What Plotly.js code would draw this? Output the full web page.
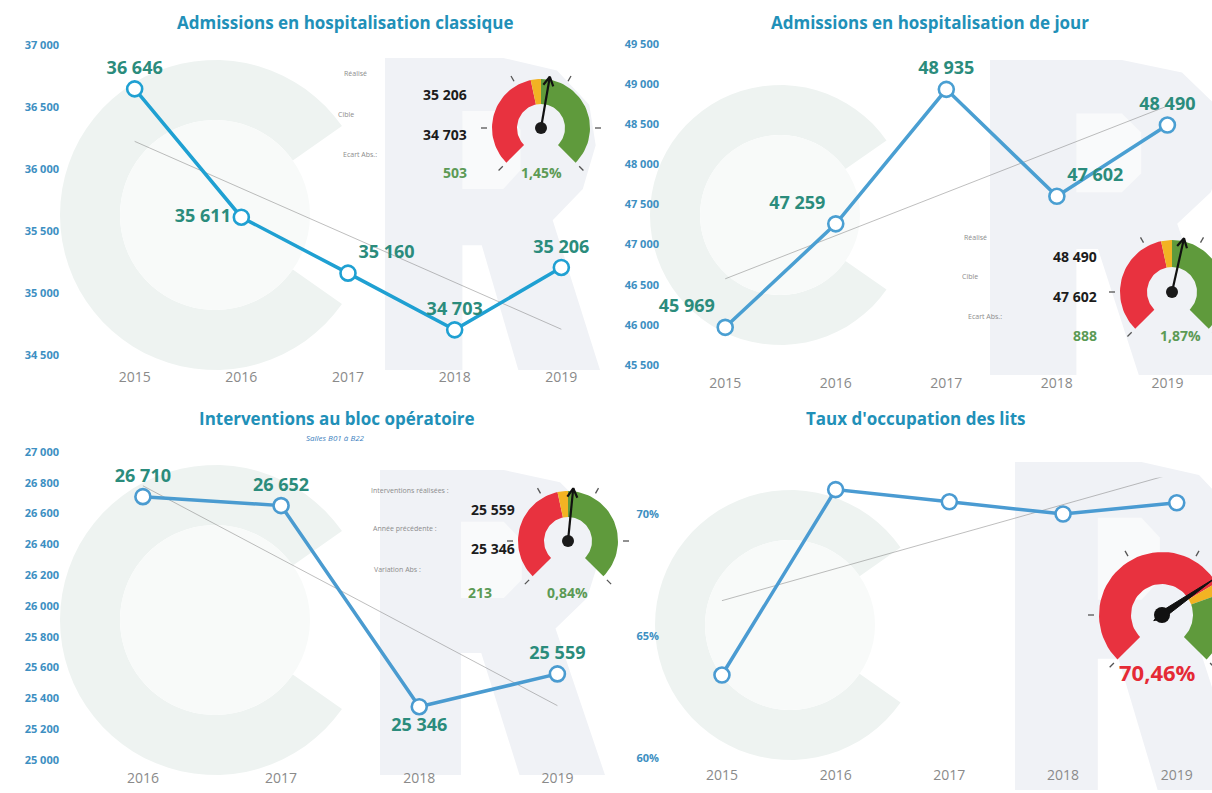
<!DOCTYPE html>
<html><head><meta charset="utf-8">
<script src="https://cdn.plot.ly/plotly-3.0.1.min.js"></script>
<style>html,body{margin:0;padding:0;background:#fff;}#c{width:1212px;height:793px;}</style>
</head><body><div id="c"></div>
<script>
// ---------- DATA ----------
const yearsA = [2015, 2016, 2017, 2018, 2019];
const hospClassique = [36646, 35611, 35160, 34703, 35206];
const hospJour = [45969, 47259, 48935, 47602, 48490];
const yearsBloc = [2016, 2017, 2018, 2019];
const blocInterventions = [26710, 26652, 25346, 25559];
const tauxOccupation = [63.4, 71.0, 70.5, 70.0, 70.46];
const tauxTicks = [60, 65, 70];

const titles = ['Admissions en hospitalisation classique', 'Admissions en hospitalisation de jour',
  'Interventions au bloc opératoire', "Taux d'occupation des lits"];
const subtitleBloc = 'Salles B01 à B22';

// gauge figures
const g1Labels = ['Réalisé', 'Cible', 'Ecart Abs.:'];
const g1Values = ['35 206', '34 703', '503', '1,45%'];
const g2Labels = ['Réalisé', 'Cible', 'Ecart Abs.:'];
const g2Values = ['48 490', '47 602', '888', '1,87%'];
const g3Labels = ['Interventions réalisées :', 'Année précédente :', 'Variation Abs :'];
const g3Values = ['25 559', '25 346', '213', '0,84%'];
const g4Value = '70,46%';
const gaugePct = [1.45, 1.87, 0.84, 70.46];

// ---------- HELPERS ----------
const W = 1212, H = 793;
const px = x => x / W, py = y => 1 - y / H;
const TEAL = '#2b8c7c', AXC = '#3d8fc2';

function trend(xs, ys) {
  const n = xs.length, mx = xs.reduce((a, b) => a + b) / n, my = ys.reduce((a, b) => a + b) / n;
  let sxy = 0, sxx = 0;
  xs.forEach((x, i) => { sxy += (x - mx) * (ys[i] - my); sxx += (x - mx) ** 2; });
  const b = sxy / sxx, a = my - b * mx;
  return { x: [xs[0], xs[n - 1]], y: [a + b * xs[0], a + b * xs[n - 1]] };
}

const traces = [];
const sub = [['x', 'y'], ['x2', 'y2'], ['x3', 'y3'], ['x4', 'y4']];
function addSeries(k, xs, ys, color, labels, pos) {
  const t = trend(xs, ys);
  traces.push({ x: t.x, y: t.y, xaxis: sub[k][0], yaxis: sub[k][1], mode: 'lines',
    line: { color: 'rgba(110,110,110,0.5)', width: 0.9 }, hoverinfo: 'skip', showlegend: false });
  traces.push({ x: xs, y: ys, xaxis: sub[k][0], yaxis: sub[k][1],
    mode: labels ? 'lines+markers+text' : 'lines+markers',
    line: { color: color, width: 3.5 },
    marker: { size: 15, color: '#ffffff', line: { color: color, width: 2.6 } },
    texttemplate: labels ? '%{y:,.0f}' : undefined, textposition: pos,
    textfont: { family: 'Open Sans', size: 18, color: TEAL, weight: 700 },
    cliponaxis: false, showlegend: false });
}
addSeries(0, yearsA, hospClassique, '#1fa0d2', true,
  ['top center', 'middle left', 'top right', 'top center', 'top center']);
addSeries(1, yearsA, hospJour, '#4a9fd2', true,
  ['top left', 'top left', 'top center', 'top right', 'top center']);
addSeries(2, yearsBloc, blocInterventions, '#4a9bd0', true,
  ['top center', 'top center', 'bottom center', 'top center']);
addSeries(3, yearsA, tauxOccupation, '#4a9bd2', false, null);

// ---------- GAUGES (pixel overlay axis x5/y5) ----------
const arc = (cx, cy, r, a0, a1, n) => {
  const p = []; for (let i = 0; i <= n; i++) { const a = (a0 + (a1 - a0) * i / n) * Math.PI / 180;
    p.push([cx + r * Math.cos(a), cy - r * Math.sin(a)]); } return p; };
function band(cx, cy, R, r, a0, a1, color) {
  const o = arc(cx, cy, R, a0, a1, 40), i = arc(cx, cy, r, a1, a0, 40), pts = o.concat(i);
  pts.push(o[0]);
  traces.push({ x: pts.map(p => p[0]), y: pts.map(p => p[1]), xaxis: 'x5', yaxis: 'y5', mode: 'lines',
    fill: 'toself', fillcolor: color, line: { width: 0, color: color }, hoverinfo: 'skip', showlegend: false });
}
function line(pts, color, w) {
  traces.push({ x: pts.map(p => p[0]), y: pts.map(p => p[1]), xaxis: 'x5', yaxis: 'y5', mode: 'lines',
    line: { color: color, width: w }, hoverinfo: 'skip', showlegend: false });
}
function gauge(cx, cy, R, r, vmin, vmax, bands, value, arrow) {
  const ang = v => 225 - (v - vmin) / (vmax - vmin) * 270;
  bands.forEach(b => band(cx, cy, R, r, ang(b[0]), ang(b[1]), b[2]));
  [225, 180, 120, 60, 0, -45].forEach(a => {
    const t = a * Math.PI / 180;
    line([[cx + (R + 5) * Math.cos(t), cy - (R + 5) * Math.sin(t)], [cx + (R + 11) * Math.cos(t), cy - (R + 11) * Math.sin(t)]], '#555', 1.3);
  });
  const a = ang(value) * Math.PI / 180, L = R + 3;
  const tip = [cx + L * Math.cos(a), cy - L * Math.sin(a)];
  if (arrow) {
    line([[cx, cy], tip], '#111', 2.2);
    const back = 9, wd = 5, bx = tip[0] - back * Math.cos(a), by = tip[1] + back * Math.sin(a);
    const nx = Math.sin(a), ny = Math.cos(a);
    line([[bx + wd * nx, by + wd * ny], tip, [bx - wd * nx, by - wd * ny]], '#111', 2.2);
    traces.push({ x: [cx], y: [cy], xaxis: 'x5', yaxis: 'y5', mode: 'markers',
      marker: { size: 12, color: '#1a1a1a' }, hoverinfo: 'skip', showlegend: false });
  } else {
    const nx = Math.sin(a), ny = Math.cos(a), wd = 3.5;
    const pts = [[cx + wd * nx, cy + wd * ny], tip, [cx - wd * nx, cy - wd * ny],
      [cx - 10 * Math.cos(a), cy + 10 * Math.sin(a)], [cx + wd * nx, cy + wd * ny]];
    traces.push({ x: pts.map(p => p[0]), y: pts.map(p => p[1]), xaxis: 'x5', yaxis: 'y5', mode: 'lines',
      fill: 'toself', fillcolor: '#111', line: { color: '#111', width: 1 }, hoverinfo: 'skip', showlegend: false });
    traces.push({ x: [cx], y: [cy], xaxis: 'x5', yaxis: 'y5', mode: 'markers',
      marker: { size: 16, color: '#111' }, hoverinfo: 'skip', showlegend: false });
  }
}
const RED = '#e8323f', YEL = '#f2b323', GRN = '#5f9a3c';
const smallBands = [[-20, -1.8, RED], [-1.8, 0, YEL], [0, 20, GRN]];
gauge(541, 128, 49, 24, -20, 20, smallBands, gaugePct[0], true);
gauge(1172, 292, 52, 25, -20, 20, smallBands, gaugePct[1], true);
gauge(568, 541, 50, 24, -20, 20, smallBands, gaugePct[2], true);
gauge(1162, 615, 63, 31, 0, 100, [[0, 72, RED], [72, 76, YEL], [76, 100, GRN]], gaugePct[3], false);

// ---------- WATERMARK SHAPES ----------
const shapes = [];
function pathFrom(pts) { return 'M' + pts.map(p => px(p[0]).toFixed(5) + ',' + py(p[1]).toFixed(5)).join('L') + 'Z'; }
function ringC(cx, cy, R, r, open) {
  const o = arc(cx, cy, R, open, 360 - open, 60), i = arc(cx, cy, r, 360 - open, open, 60);
  shapes.push({ type: 'path', xref: 'paper', yref: 'paper', layer: 'below', path: pathFrom(o.concat(i)),
    fillcolor: '#eef3f1', line: { width: 0 } });
  shapes.push({ type: 'path', xref: 'paper', yref: 'paper', layer: 'below', path: pathFrom(arc(cx, cy, r, 0, 360, 60)),
    fillcolor: '#f8faf9', line: { width: 0 } });
}
function letterR(x0, y0, w, h) {
  const P = (u, v) => [x0 + u * w, y0 + v * h];
  const outer = [P(0, 0), P(0.55, 0), P(0.8, 0.04), P(0.95, 0.15), P(0.98, 0.28), P(0.92, 0.42), P(0.78, 0.52),
    P(1, 1), P(0.62, 1), P(0.45, 0.6), P(0.36, 0.6), P(0.36, 1), P(0, 1)];
  shapes.push({ type: 'path', xref: 'paper', yref: 'paper', layer: 'below', path: pathFrom(outer),
    fillcolor: '#f0f2f6', line: { width: 0 } });
  const hole = [P(0.36, 0.17), P(0.55, 0.17), P(0.63, 0.23), P(0.63, 0.36), P(0.55, 0.42), P(0.36, 0.42)];
  shapes.push({ type: 'path', xref: 'paper', yref: 'paper', layer: 'below', path: pathFrom(hole),
    fillcolor: '#f9fafb', line: { width: 0 } });
}
ringC(215, 215, 155, 95, 35); letterR(385, 58, 215, 312);
ringC(780, 215, 130, 80, 35); letterR(990, 60, 240, 315);
ringC(215, 620, 155, 95, 35); letterR(380, 470, 225, 305);
ringC(790, 625, 135, 85, 35); letterR(1015, 462, 230, 328);

// ---------- ANNOTATIONS ----------
const ann = [];
function txt(x, y, t, size, color, weight, extra) {
  ann.push(Object.assign({ xref: 'paper', yref: 'paper', x: px(x), y: py(y), text: t, showarrow: false,
    xanchor: 'center', yanchor: 'middle', font: { family: 'Open Sans', size: size, color: color, weight: weight } }, extra || {}));
}
const TITLEC = '#2190b8';
txt(345, 22, titles[0], 17, TITLEC, 700);
txt(930, 22, titles[1], 17, TITLEC, 700);
txt(337, 418, titles[2], 17, TITLEC, 700);
txt(335, 437, subtitleBloc, 8, '#3d7fc0', 400, { font: { family: 'Open Sans', size: 8, color: '#3d7fc0', style: 'italic' } });
txt(916, 418, titles[3], 17, TITLEC, 700);
const LBL = '#8c8c8c', VAL = '#1c1c1c', GV = '#5c9a55';
// gauge 1
txt(355, 73, g1Labels[0], 7, LBL, 400); txt(346, 115, g1Labels[1], 7, LBL, 400); txt(360, 155, g1Labels[2], 7, LBL, 400);
txt(445, 94, g1Values[0], 14, VAL, 700); txt(445, 134, g1Values[1], 14, VAL, 700);
txt(455, 173, g1Values[2], 14, GV, 700); txt(541, 173, g1Values[3], 14, GV, 700);
// gauge 2
txt(975, 237, g2Labels[0], 7, LBL, 400); txt(970, 276, g2Labels[1], 7, LBL, 400); txt(985, 316, g2Labels[2], 7, LBL, 400);
txt(1075, 256, g2Values[0], 14, VAL, 700); txt(1075, 296, g2Values[1], 14, VAL, 700);
txt(1085, 336, g2Values[2], 14, GV, 700); txt(1180, 336, g2Values[3], 14, GV, 700);
// gauge 3
txt(410, 490, g3Labels[0], 7, LBL, 400); txt(405, 528, g3Labels[1], 7, LBL, 400); txt(397, 569, g3Labels[2], 7, LBL, 400);
txt(493, 509, g3Values[0], 14, VAL, 700); txt(493, 548, g3Values[1], 14, VAL, 700);
txt(480, 592, g3Values[2], 14, GV, 700); txt(567, 592, g3Values[3], 14, GV, 700);
// gauge 4
txt(1157, 672, g4Value, 22, '#e52a35', 700);

// ---------- AXES ----------
const yfont = { family: 'Open Sans', size: 11, color: AXC, weight: 700 };
const xfont = { family: 'Open Sans', size: 14, color: '#8a8a8a' };
function xa(d0, d1, r, tv, anchor) {
  return { domain: [px(d0), px(d1)], range: r, tickvals: tv, ticktext: tv.map(String), tickfont: xfont,
    showgrid: false, zeroline: false, showline: false, ticks: '', anchor: anchor, fixedrange: true };
}
function ya(top, bot, r, extra, anchor) {
  return Object.assign({ domain: [py(bot), py(top)], range: r, tickfont: yfont, showgrid: false, zeroline: false,
    showline: false, ticks: '', tickformat: ',.0f', anchor: anchor, fixedrange: true }, extra);
}
const layout = {
  width: W, height: H, margin: { l: 0, r: 0, t: 0, b: 0 }, paper_bgcolor: '#ffffff', plot_bgcolor: 'rgba(0,0,0,0)',
  separators: ', ', showlegend: false, shapes: shapes, annotations: ann,
  xaxis: xa(60, 604, [2014.3, 2019.4], yearsA, 'y'),
  yaxis: ya(32.6, 367.4, [34400, 37100], { tick0: 34500, dtick: 500 }, 'x'),
  xaxis2: xa(660, 1205, [2014.41, 2019.34], yearsA, 'y2'),
  yaxis2: ya(36, 373, [45400, 49600], { tick0: 45500, dtick: 500 }, 'x2'),
  xaxis3: xa(60, 603, [2015.4, 2019.33], yearsBloc, 'y3'),
  yaxis3: ya(444.3, 767.7, [24950, 27050], { tick0: 25000, dtick: 200 }, 'x3'),
  xaxis4: xa(660, 1212, [2014.455, 2019.31], yearsA, 'y4'),
  yaxis4: ya(477.4, 765.3, [59.7, 71.5], { tickvals: tauxTicks, ticktext: tauxTicks.map(v => v + '%') }, 'x4'),
  xaxis5: { domain: [0, 1], range: [0, W], visible: false, anchor: 'y5', fixedrange: true },
  yaxis5: { domain: [0, 1], range: [H, 0], visible: false, anchor: 'x5', fixedrange: true }
};
Plotly.newPlot('c', traces, layout, { staticPlot: true, displayModeBar: false });
</script></body></html>
